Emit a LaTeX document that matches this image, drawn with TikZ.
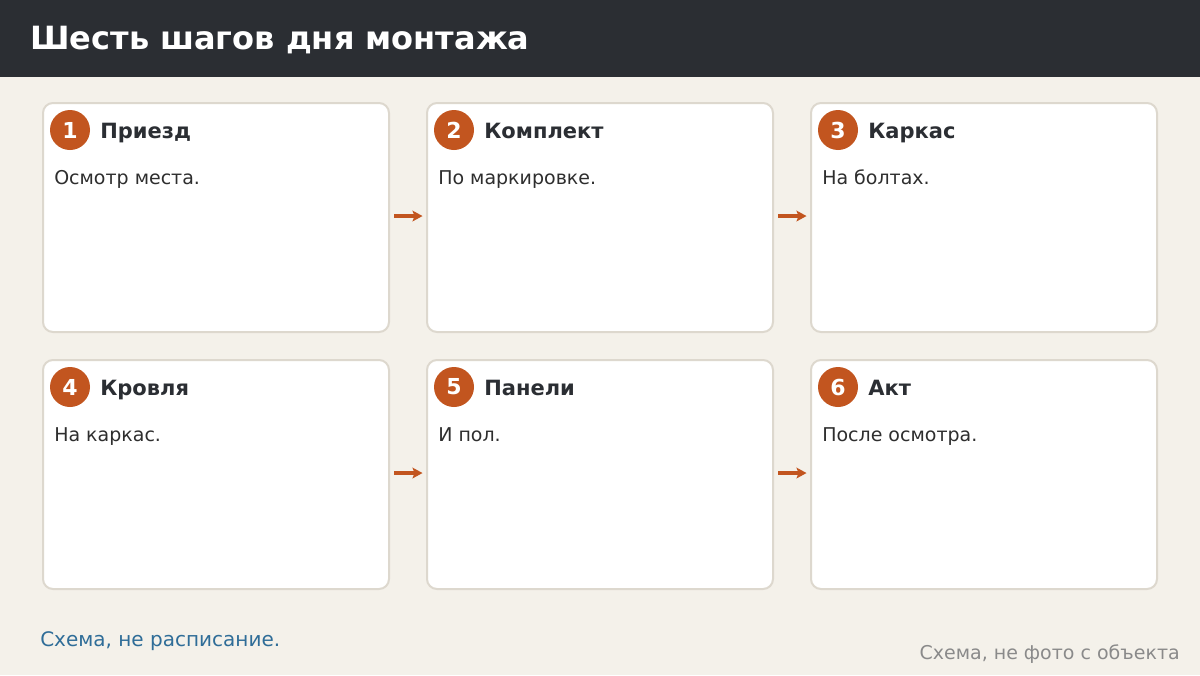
\documentclass[tikz,border=0pt]{standalone}
\usepackage{fontspec}
\setmainfont{DejaVu Sans}
\usetikzlibrary{arrows.meta}
\definecolor{bg}{HTML}{F4F1EA}
\definecolor{hdr}{HTML}{2B2E33}
\definecolor{cardline}{HTML}{DDD8CE}
\definecolor{accent}{HTML}{C2551F}
\definecolor{ink}{HTML}{2B2E33}
\definecolor{body}{HTML}{2E2E2E}
\definecolor{footblue}{HTML}{2F6D98}
\definecolor{footgray}{HTML}{8A8A8A}
\tikzset{
  card/.style={draw=cardline, line width=1.5pt, fill=white, rounded corners=7.5pt,
    minimum width=259.5pt, minimum height=171.75pt, inner sep=0pt, anchor=north west},
  badge/.style={circle, fill=accent, minimum size=30pt, inner sep=0pt, text=white,
    font=\fontsize{16.5pt}{18pt}\selectfont\bfseries},
  cardtitle/.style={anchor=base west, inner sep=0pt, text=ink, font=\fontsize{15.75pt}{18pt}\selectfont\bfseries},
  cardbody/.style={anchor=base west, inner sep=0pt, text=body, font=\fontsize{14.25pt}{17pt}\selectfont},
  flow/.style={draw=accent, line width=2.6pt, -{Stealth[length=7.5pt,width=8pt,inset=1.5pt]}},
}
\begin{document}
\begin{tikzpicture}[x=0.75pt,y=-0.75pt]
\fill[bg] (0,0) rectangle (1200,675);
\useasboundingbox (0,0) rectangle (1200,675);
\fill[hdr] (0,0) rectangle (1200,77);
\node[anchor=base west, inner sep=0pt, text=white, font=\fontsize{24pt}{28pt}\selectfont\bfseries] (title) at (30,49) {Шесть шагов дня монтажа};

% cards
\foreach \n/\x/\y/\t/\b in {1/42/102/Приезд/Осмотр места.,
                             2/426/102/Комплект/По маркировке.,
                             3/810/102/Каркас/На болтах.,
                             4/42/359/Кровля/На каркас.,
                             5/426/359/Панели/И пол.,
                             6/810/359/Акт/После осмотра.}{
  \node[card] (c\n) at (\x,\y) {};
  \node[badge] (b\n) at (\x+28,\y+28) {\n};
  \node[cardtitle] (t\n) at (\x+58,\y+36) {\t};
  \node[cardbody] (d\n) at (\x+12,\y+82) {\b};
}

% connectors
\draw[flow] ([xshift=3pt,yshift=1.1pt]c1.east) -- ([xshift=-2.6pt,yshift=1.1pt]c2.west);
\draw[flow] ([xshift=3pt,yshift=1.1pt]c2.east) -- ([xshift=-2.6pt,yshift=1.1pt]c3.west);
\draw[flow] ([xshift=3pt,yshift=1.1pt]c4.east) -- ([xshift=-2.6pt,yshift=1.1pt]c5.west);
\draw[flow] ([xshift=3pt,yshift=1.1pt]c5.east) -- ([xshift=-2.6pt,yshift=1.1pt]c6.west);

% footer
\node[anchor=base west, inner sep=0pt, text=footblue, font=\fontsize{15pt}{18pt}\selectfont] (fl) at (40,646) {Схема, не расписание.};
\node[anchor=base east, inner sep=0pt, text=footgray, font=\fontsize{14.25pt}{17pt}\selectfont] (fr) at (1180,659) {Схема, не фото с объекта};
\end{tikzpicture}
\end{document}
